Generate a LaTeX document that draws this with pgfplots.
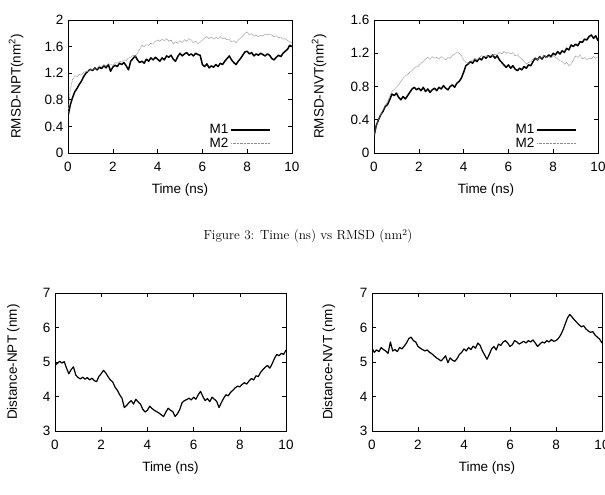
\documentclass[border=0pt]{standalone}
\usepackage{pgfplots}
\pgfplotsset{compat=1.18}
\usepackage{pgfplotstable}
\usepackage{fontspec}
\newfontfamily\hv{Liberation Sans}
\newcommand\lblfont{\hv\fontsize{13.5}{16}\selectfont}

% RMSD, NPT ensemble: time (ns), model M1, model M2
\pgfplotstableread{
t m1 m2
0.0 0.55 0.60
0.1 0.72 0.95
0.2 0.83 1.10
0.3 0.92 1.16
0.4 0.97 1.15
0.5 1.03 1.18
0.6 1.08 1.17
0.7 1.15 1.21
0.8 1.20 1.23
0.9 1.23 1.22
1.0 1.26 1.26
1.1 1.24 1.25
1.2 1.28 1.28
1.3 1.25 1.27
1.4 1.29 1.31
1.5 1.27 1.30
1.6 1.31 1.33
1.7 1.28 1.31
1.8 1.33 1.34
1.9 1.23 1.33
2.0 1.29 1.32
2.1 1.32 1.36
2.2 1.30 1.35
2.3 1.35 1.38
2.4 1.33 1.37
2.5 1.36 1.40
2.6 1.31 1.39
2.7 1.25 1.43
2.8 1.38 1.44
2.9 1.42 1.47
3.0 1.46 1.45
3.1 1.40 1.50
3.2 1.36 1.56
3.3 1.38 1.62
3.4 1.35 1.60
3.5 1.41 1.63
3.6 1.38 1.62
3.7 1.43 1.65
3.8 1.40 1.64
3.9 1.44 1.68
4.0 1.41 1.70
4.1 1.38 1.68
4.2 1.43 1.71
4.3 1.40 1.69
4.4 1.46 1.72
4.5 1.44 1.68
4.6 1.47 1.70
4.7 1.41 1.64
4.8 1.38 1.67
4.9 1.45 1.65
5.0 1.50 1.69
5.1 1.46 1.66
5.2 1.49 1.70
5.3 1.51 1.68
5.4 1.47 1.72
5.5 1.49 1.70
5.6 1.46 1.66
5.7 1.50 1.68
5.8 1.48 1.64
5.9 1.47 1.67
6.0 1.33 1.70
6.1 1.30 1.73
6.2 1.34 1.75
6.3 1.28 1.72
6.4 1.31 1.74
6.5 1.29 1.71
6.6 1.33 1.74
6.7 1.30 1.72
6.8 1.35 1.75
6.9 1.33 1.72
7.0 1.38 1.73
7.1 1.42 1.70
7.2 1.46 1.71
7.3 1.40 1.67
7.4 1.36 1.69
7.5 1.33 1.66
7.6 1.38 1.70
7.7 1.42 1.73
7.8 1.47 1.76
7.9 1.52 1.80
8.0 1.53 1.82
8.1 1.49 1.78
8.2 1.51 1.79
8.3 1.46 1.76
8.4 1.49 1.77
8.5 1.47 1.75
8.6 1.50 1.77
8.7 1.48 1.76
8.8 1.46 1.79
8.9 1.49 1.78
9.0 1.47 1.79
9.1 1.42 1.77
9.2 1.40 1.75
9.3 1.44 1.76
9.4 1.47 1.73
9.5 1.45 1.74
9.6 1.50 1.71
9.7 1.53 1.72
9.8 1.56 1.69
9.9 1.62 1.67
10.0 1.60 1.65
}\rmsdnpt

% RMSD, NVT ensemble: time (ns), model M1, model M2
\pgfplotstableread{
t m1 m2
0.0 0.20 0.22
0.1 0.33 0.32
0.2 0.40 0.41
0.3 0.46 0.46
0.4 0.50 0.52
0.5 0.56 0.57
0.6 0.58 0.62
0.7 0.64 0.68
0.8 0.71 0.74
0.9 0.69 0.76
1.0 0.72 0.79
1.1 0.67 0.82
1.2 0.64 0.86
1.3 0.68 0.90
1.4 0.65 0.93
1.5 0.69 0.95
1.6 0.73 0.97
1.7 0.77 0.99
1.8 0.79 1.02
1.9 0.76 1.04
2.0 0.78 1.05
2.1 0.75 1.08
2.2 0.79 1.10
2.3 0.74 1.13
2.4 0.77 1.15
2.5 0.73 1.13
2.6 0.76 1.16
2.7 0.78 1.14
2.8 0.75 1.15
2.9 0.79 1.13
3.0 0.77 1.16
3.1 0.81 1.14
3.2 0.78 1.12
3.3 0.76 1.15
3.4 0.80 1.14
3.5 0.82 1.17
3.6 0.79 1.19
3.7 0.84 1.21
3.8 0.86 1.20
3.9 0.90 1.17
4.0 0.97 1.12
4.1 1.05 1.09
4.2 1.07 1.08
4.3 1.10 1.10
4.4 1.08 1.12
4.5 1.12 1.14
4.6 1.10 1.12
4.7 1.14 1.15
4.8 1.12 1.17
4.9 1.16 1.15
5.0 1.14 1.17
5.1 1.17 1.16
5.2 1.15 1.18
5.3 1.18 1.17
5.4 1.14 1.19
5.5 1.17 1.18
5.6 1.12 1.21
5.7 1.09 1.19
5.8 1.06 1.22
5.9 1.03 1.20
6.0 1.06 1.21
6.1 1.02 1.19
6.2 1.05 1.21
6.3 1.01 1.17
6.4 0.99 1.18
6.5 1.02 1.15
6.6 1.00 1.13
6.7 1.04 1.10
6.8 1.02 1.07
6.9 1.06 1.09
7.0 1.05 1.10
7.1 1.10 1.13
7.2 1.14 1.15
7.3 1.12 1.12
7.4 1.16 1.16
7.5 1.13 1.14
7.6 1.17 1.17
7.7 1.15 1.15
7.8 1.18 1.16
7.9 1.16 1.14
8.0 1.20 1.17
8.1 1.18 1.15
8.2 1.22 1.13
8.3 1.19 1.11
8.4 1.23 1.10
8.5 1.21 1.07
8.6 1.26 1.09
8.7 1.24 1.05
8.8 1.30 1.07
8.9 1.28 1.12
9.0 1.31 1.17
9.1 1.29 1.15
9.2 1.34 1.18
9.3 1.33 1.13
9.4 1.37 1.15
9.5 1.36 1.12
9.6 1.40 1.14
9.7 1.42 1.13
9.8 1.38 1.16
9.9 1.41 1.14
10.0 1.35 1.16
}\rmsdnvt

% Distance (nm) for the NPT and NVT runs
\pgfplotstableread{
t npt nvt
0.0 4.90 5.40
0.1 4.96 5.28
0.2 5.02 5.35
0.3 4.97 5.30
0.4 5.01 5.42
0.5 4.82 5.36
0.6 4.66 5.32
0.7 4.78 5.25
0.8 4.86 5.58
0.9 4.62 5.32
1.0 4.55 5.36
1.1 4.51 5.30
1.2 4.56 5.42
1.3 4.50 5.38
1.4 4.55 5.46
1.5 4.48 5.55
1.6 4.53 5.68
1.7 4.46 5.72
1.8 4.43 5.62
1.9 4.58 5.58
2.0 4.66 5.45
2.1 4.76 5.40
2.2 4.68 5.36
2.3 4.57 5.32
2.4 4.48 5.35
2.5 4.42 5.28
2.6 4.27 5.24
2.7 4.18 5.18
2.8 4.05 5.12
2.9 3.95 5.08
3.0 3.68 5.03
3.1 3.74 5.10
3.2 3.82 5.18
3.3 3.88 4.98
3.4 3.78 5.12
3.5 3.92 5.05
3.6 3.84 5.02
3.7 3.78 5.10
3.8 3.63 5.22
3.9 3.55 5.28
4.0 3.60 5.38
4.1 3.72 5.32
4.2 3.65 5.42
4.3 3.60 5.36
4.4 3.56 5.46
4.5 3.52 5.40
4.6 3.47 5.55
4.7 3.42 5.48
4.8 3.55 5.32
4.9 3.66 5.20
5.0 3.60 5.08
5.1 3.56 5.22
5.2 3.42 5.38
5.3 3.50 5.45
5.4 3.62 5.35
5.5 3.82 5.52
5.6 3.88 5.48
5.7 3.91 5.58
5.8 3.95 5.62
5.9 3.90 5.55
6.0 3.98 5.45
6.1 3.92 5.50
6.2 4.05 5.62
6.3 4.15 5.58
6.4 4.00 5.52
6.5 3.88 5.56
6.6 3.94 5.60
6.7 3.85 5.55
6.8 3.98 5.62
6.9 3.92 5.58
7.0 3.86 5.64
7.1 3.68 5.55
7.2 3.82 5.45
7.3 3.95 5.52
7.4 4.05 5.58
7.5 4.02 5.55
7.6 4.12 5.62
7.7 4.18 5.58
7.8 4.25 5.65
7.9 4.30 5.60
8.0 4.28 5.62
8.1 4.35 5.68
8.2 4.40 5.78
8.3 4.36 5.92
8.4 4.45 6.10
8.5 4.52 6.28
8.6 4.48 6.38
8.7 4.60 6.30
8.8 4.58 6.22
8.9 4.70 6.15
9.0 4.78 6.08
9.1 4.85 6.02
9.2 4.90 6.05
9.3 4.82 5.96
9.4 4.95 5.90
9.5 5.10 5.86
9.6 5.22 5.88
9.7 5.18 5.78
9.8 5.25 5.72
9.9 5.22 5.66
10.0 5.35 5.55
}\distance

\pgfplotsset{
  md/.style={
    scale only axis,
    anchor=south west,
    xmin=0, xmax=10,
    xtick={0,2,4,6,8,10},
    tick align=inside,
    xtick pos=both, ytick pos=both,
    xticklabel pos=bottom, yticklabel pos=left,
    major tick length=4pt,
    minor tick num=0,
    axis line style={line width=0.8pt},
    every tick/.style={black, line width=0.6pt},
    /pgf/number format/assume math mode=true,
    tick label style={font=\lblfont},
    xticklabel style={yshift=-6pt},
    yticklabel style={xshift=-1pt},
    xlabel={Time (ns)},
    every axis x label/.style={at={(axis description cs:0.5,0)}, anchor=center,
      yshift=-37pt, font=\lblfont},
    legend style={draw=none, fill=none, font=\lblfont,
      at={(axis description cs:0.92,0.0)}, anchor=south east, row sep=-1.5pt},
    legend plot pos=right,
    legend cell align=right,
    legend image code/.code={\draw[#1] (0pt,0pt) -- (39pt,0pt);},
  },
  ylab/.style={every axis y label/.style={at={(axis description cs:#1,0.5)},
      rotate=90, anchor=center, font=\lblfont}},
  m1/.style={black, line width=1.5pt, line join=round},
  m2/.style={black!45, line width=0.7pt, dash pattern=on 0.7pt off 0.7pt},
}

\begin{document}
\begin{tikzpicture}[x=1pt, y=1pt]
\path[use as bounding box] (0,0) rectangle (605,495);

% RMSD, NPT
\begin{axis}[md, at={(68pt,342pt)}, width=224pt, height=133pt,
  ymin=0, ymax=2, ytick={0,0.4,0.8,1.2,1.6,2},
  ylabel={RMSD-NPT(nm\textsuperscript{2})}, ylab=-0.232]
\addplot[m1] table[x=t, y=m1] {\rmsdnpt};
\addplot[m2] table[x=t, y=m2] {\rmsdnpt};
\legend{M1, M2}
\end{axis}

% RMSD, NVT
\begin{axis}[md, at={(374pt,342pt)}, width=224pt, height=133pt,
  ymin=0, ymax=1.6, ytick={0,0.4,0.8,1.2,1.6},
  ylabel={RMSD-NVT(nm\textsuperscript{2})}, ylab=-0.245]
\addplot[m1] table[x=t, y=m1] {\rmsdnvt};
\addplot[m2] table[x=t, y=m2] {\rmsdnvt};
\legend{M1, M2}
\end{axis}

\node[font=\fontsize{13.2}{15}\selectfont] at (308,259) {Figure 3: Time (ns) vs RMSD (nm$^2$)};

% Distance, NPT
\begin{axis}[md, at={(55pt,64pt)}, width=231pt, height=138pt,
  ymin=3, ymax=7, ytick={3,4,5,6,7},
  ylabel={Distance-NPT (nm)}, ylab=-0.18]
\addplot[black, line width=1.2pt, line join=round] table[x=t, y=npt] {\distance};
\end{axis}

% Distance, NVT
\begin{axis}[md, at={(372pt,64pt)}, width=230pt, height=138pt,
  ymin=3, ymax=7, ytick={3,4,5,6,7},
  ylabel={Distance-NVT (nm)}, ylab=-0.187]
\addplot[black, line width=1.2pt, line join=round] table[x=t, y=nvt] {\distance};
\end{axis}
\end{tikzpicture}
\end{document}
